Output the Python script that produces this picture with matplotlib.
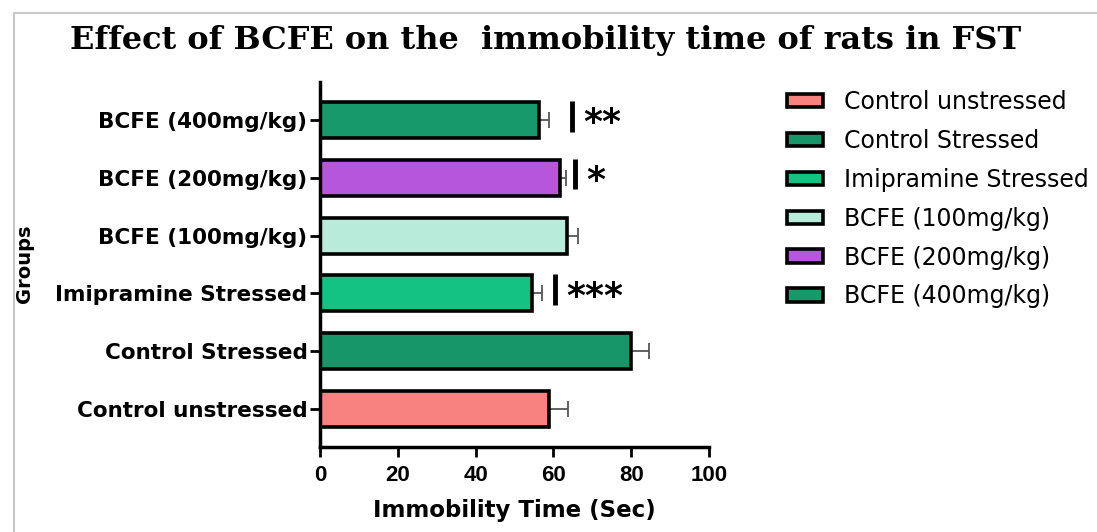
import matplotlib.pyplot as plt
from matplotlib.patches import Rectangle

groups = ["Control unstressed", "Control Stressed", "Imipramine Stressed",
          "BCFE (100mg/kg)", "BCFE (200mg/kg)", "BCFE (400mg/kg)"]
means = [58.9, 80.0, 54.5, 63.5, 61.7, 56.3]
sem = [4.9, 4.6, 2.5, 2.8, 1.5, 2.6]
colors = ["#F7827F", "#17966A", "#14C283", "#B8EBDA", "#B656DD", "#18996B"]

# significance marks: group index, x of the bar line, stars
sig_groups = [2, 4, 5]
sig_x = [60.4, 65.5, 64.8]
sig_text = ["***", "*", "**"]

fig = plt.figure(figsize=(10.97, 5.32), dpi=100)
ax = fig.add_axes([0.2917, 0.1598, 0.3546, 0.6861])

ypos = list(range(len(groups)))
for i in ypos:
    ax.barh(i, means[i], height=0.62, color=colors[i], edgecolor="black",
            linewidth=2.6, label=groups[i], zorder=2)
    ax.errorbar(means[i], i, xerr=[[0], [sem[i]]], fmt="none", ecolor="#555555",
                elinewidth=1.3, capsize=6, capthick=1.3, zorder=1)

for g, x, s in zip(sig_groups, sig_x, sig_text):
    ax.plot([x, x], [g - 0.2, g + 0.33], color="black", linewidth=3.5, solid_capstyle="butt")
    ax.annotate(s, (x + 2.9, g), xytext=(0, -9.5), textcoords="offset points",
                ha="left", va="baseline", fontsize=26, fontweight="bold",
                family="DejaVu Sans")

ax.set_xlim(0, 100)
ax.set_ylim(-0.66, 5.66)
ax.set_xticks([0, 20, 40, 60, 80, 100])
ax.set_yticks(ypos)
ax.set_yticklabels(groups)
for lab in ax.get_yticklabels():
    lab.set_fontweight("bold")
    lab.set_family("DejaVu Sans")
    lab.set_fontsize(15.5)
for lab in ax.get_xticklabels():
    lab.set_fontweight("bold")
    lab.set_family("Liberation Sans")
    lab.set_fontsize(16)
ax.tick_params(axis="both", width=2, length=7, color="black")
ax.tick_params(axis="y", pad=2)
ax.tick_params(axis="x", pad=6)
for side in ["top", "right"]:
    ax.spines[side].set_visible(False)
for side in ["left", "bottom"]:
    ax.spines[side].set_linewidth(2.5)

ax.set_xlabel("Immobility Time (Sec)", fontsize=16.5, fontweight="bold",
              family="DejaVu Sans", labelpad=9)
fig.text(0.022, 0.505, "Groups", rotation=90, ha="center", va="center",
         fontsize=14, fontweight="bold", family="DejaVu Sans")

fig.text(0.497, 0.923, "Effect of BCFE on the  immobility time of rats in FST",
         ha="center", va="center", fontsize=23, fontweight="bold", family="DejaVu Serif")

leg = ax.legend(loc="upper left", bbox_to_anchor=(0.707, 0.853), bbox_transform=fig.transFigure,
                frameon=False, prop={"family": "DejaVu Sans", "size": 17}, borderpad=0,
                handlelength=1.5, handleheight=0.5, labelspacing=0.63, handletextpad=0.9)
for h in leg.legend_handles:
    h.set_linewidth(2.6)

# faint screenshot frame
fig.patches.append(Rectangle((0.013, -0.1), 1.2, 1.075, transform=fig.transFigure,
                             fill=False, edgecolor="#C8C8C8", linewidth=1.5))

fig.savefig("out.png", dpi=100)
